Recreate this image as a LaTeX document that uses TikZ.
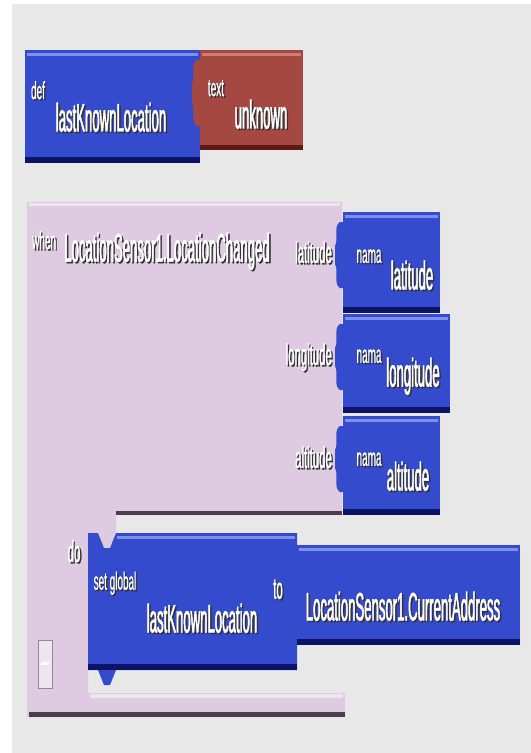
\documentclass[tikz,border=0pt]{standalone}
\usepackage{fontspec}
\newfontfamily\bigfont[FakeStretch=0.33,FakeBold=1.2]{Liberation Sans}
\newfontfamily\midfont[FakeStretch=0.38,FakeBold=0.8]{Liberation Sans}
\newfontfamily\smlfont[FakeStretch=0.4,FakeBold=0.5]{Liberation Sans}
\definecolor{bgray}{RGB}{232,232,232}
\definecolor{bblue}{RGB}{53,75,205}
\definecolor{bbluelt}{RGB}{125,145,235}
\definecolor{bbluedk}{RGB}{12,20,105}
\definecolor{bred}{RGB}{166,72,66}
\definecolor{bredlt}{RGB}{205,125,118}
\definecolor{breddk}{RGB}{95,25,22}
\definecolor{bpink}{RGB}{223,203,225}
\definecolor{bpinklt}{RGB}{240,228,242}
\definecolor{bpinkdk}{RGB}{75,60,80}
\newcommand\shd[1]{\rlap{\kern1.5pt\raisebox{-1.5pt}{\textcolor{black!80}{#1}}}#1}
\tikzset{
  small/.style={font=\smlfont\fontsize{25}{25}\selectfont,text=white,inner sep=0pt},
  medium/.style={font=\midfont\fontsize{30}{30}\selectfont,text=white,inner sep=0pt},
  large/.style={font=\bigfont\fontsize{40}{40}\selectfont,text=white,inner sep=0pt},
  pics/plug/.style={code={
    \fill[#1] (1,0) -- (-3,0) .. controls (-10,4) and (-4,16) .. (-8,24) -- (-8,42) .. controls (-4,50) and (-10,62) .. (-3,66) -- (1,66) -- cycle;}}
}
\begin{document}
\begin{tikzpicture}[x=1bp,y=-1bp]
\useasboundingbox (0,0) rectangle (531,753);
\fill[white] (0,0) rectangle (531,753);
\fill[bgray] (12,4) rectangle (531,753);

% global definition
\fill[bblue] (25,50) rectangle (200,163);
\fill[bbluelt] (27,53) rectangle (198,56);
\fill[bbluedk] (25,157) rectangle (200,163);
\fill[bred] (200,50) rectangle (303,150);
\fill[bredlt] (202,53) rectangle (301,56);
\fill[breddk] (200,145) rectangle (303,150);
\pic at (200,60) {plug=bred};

% event handler
\fill[bpink] (27,202) -- (342,202) -- (342,515) -- (116,515) -- (116,533)
  -- (110,548) -- (104,548) -- (98,533)
  -- (88,533) -- (88,693) -- (345,693) -- (345,717) -- (27,717) -- cycle;
\fill[bpinklt] (29,203) rectangle (340,206);
\fill[bpinkdk] (116,511) rectangle (342,515);
\fill[bpinklt] (90,694) rectangle (343,698);
\fill[bpinkdk] (29,712) rectangle (345,717);

% event parameters
\foreach \ya/\yb/\xb in {212/313/440,314/413/450,416/515/440}{
  \fill[bblue] (343,\ya) rectangle (\xb,\yb);
  \fill[bbluelt] (345,\ya+3) rectangle (\xb-2,\ya+6);
  \fill[bbluedk] (343,\yb-6) rectangle (\xb,\yb);
  \pic at (343,\ya+10) {plug=bblue};
}

% set global statement
\fill[bblue] (88,533) -- (98,533) -- (104,548) -- (110,548) -- (116,533) -- (297,533)
  -- (297,670) -- (116,670) -- (110,685) -- (104,685) -- (98,670) -- (88,670) -- cycle;
\fill[bbluelt] (117,536) rectangle (295,539);
\fill[bbluedk] (88,664) rectangle (297,670);
\fill[bblue] (297,545) rectangle (520,645);
\fill[bbluelt] (299,548) rectangle (518,551);
\fill[bbluedk] (297,639) rectangle (520,645);
\pic at (297,555) {plug=bblue};

% collapse box
\draw[black!45,fill=bpinklt] (38,640) rectangle (52,688);
\fill[white] (41,662) rectangle (49,665);

\node[small] (defkw) at (38,91) {\shd{def}};
\node[large] (defname) at (111,118) {\shd{lastKnownLocation}};
\node[small] (textkw) at (216,89) {\shd{text}};
\node[large] (textval) at (261,115) {\shd{unknown}};

\node[small] (whenkw) at (44,241) {\shd{when}};
\node[large] (evname) at (167,252) {\shd{LocationSensor1.LocationChanged}};
\node[medium,anchor=east] (latlbl) at (332,253) {\shd{latitude}};
\node[medium,anchor=east] (lonlbl) at (332,358) {\shd{longitude}};
\node[medium,anchor=east] (altlbl) at (332,458) {\shd{altitude}};
\node[small] (latkw) at (369,257) {\shd{nama}};
\node[small] (lonkw) at (369,357) {\shd{nama}};
\node[small] (altkw) at (369,460) {\shd{nama}};
\node[large] (latval) at (412,276) {\shd{latitude}};
\node[large] (lonval) at (413,377) {\shd{longitude}};
\node[large] (altval) at (408,477) {\shd{altitude}};

\node[medium] (dokw) at (74,552) {\shd{do}};
\node[small] (setkw) at (115,584) {\shd{set global}};
\node[large] (setname) at (202,619) {\shd{lastKnownLocation}};
\node[medium] (tokw) at (278,590) {\shd{to}};
\node[large] (addrval) at (403,607) {\shd{LocationSensor1.CurrentAddress}};
\end{tikzpicture}
\end{document}
